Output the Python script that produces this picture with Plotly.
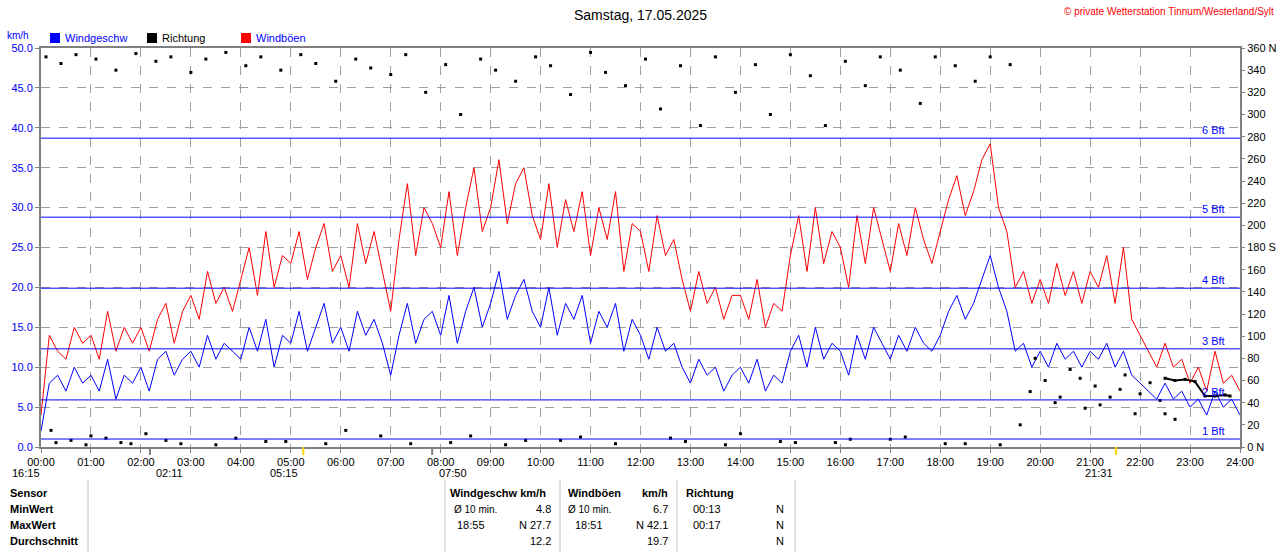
import plotly.graph_objects as go

speed = [2,8,9,7,10,8, 9,7,11,6,9,8, 10,7,11,12,9,11, 12,10,14,11,13,12,
         11,15,12,16,10,14, 13,17,12,15,18,13, 15,12,17,14,16,13, 9,14,18,13,16,17,
         14,19,13,17,20,15, 18,22,16,19,21,17, 15,20,14,18,16,19, 13,17,15,18,12,16,
         14,11,15,12,13,10, 8,11,9,10,7,9, 10,8,11,7,9,8, 12,14,10,15,11,13,
         12,9,14,11,15,13, 11,14,12,15,13,12, 14,17,19,16,18,21, 24,20,17,12,13,10,
         12,10,13,11,12,10, 12,11,13,10,12,9, 8,7,6,8,6,7, 5,6,4,7,5,6, 4]
gust = [4,14,12,11,15,13, 14,11,17,12,15,13, 15,12,16,18,13,17, 19,16,22,18,20,17,
        21,25,19,27,20,24, 23,27,21,25,28,22, 24,20,28,23,27,22, 17,26,33,24,30,28,
        25,32,24,30,35,27, 30,36,28,33,35,29, 26,33,25,31,27,32, 24,30,26,32,22,28,
        27,22,29,24,26,21, 17,22,18,20,16,19, 19,16,21,15,18,17, 24,29,22,30,23,27,
        25,20,29,23,30,26, 22,28,24,30,26,23, 27,31,34,29,32,36, 38,30,27,20,22,18,
        21,18,23,19,22,18, 22,20,24,18,25,16, 14,12,10,13,10,11, 8,10,7,12,8,9, 7]
times = [i / 6 for i in range(len(speed))]

dir_t = [0.1,0.4,0.7,1.1,1.5,1.9,2.3,2.6,3.0,3.3,3.7,4.1,4.4,4.8,5.2,5.5,5.9,6.3,6.6,7.0,
         7.3,7.7,8.1,8.4,8.8,9.1,9.5,9.9,10.2,10.6,11.0,11.3,11.7,12.1,12.4,12.8,13.2,13.5,13.9,14.3,
         14.6,15.0,15.4,15.7,16.1,16.5,16.8,17.2,17.6,17.9,18.3,18.7,19.0,19.4,
         0.3,0.9,1.3,1.8,2.5,3.5,4.5,5.7,6.8,8.2,9.3,10.4,11.5,12.6,13.7,14.8,15.9,17.0,18.1,19.2,
         0.2,0.6,1.0,1.6,2.1,2.8,3.9,4.9,6.1,7.4,8.6,9.7,10.8,12.9,14.0,15.1,16.2,17.3,18.5,19.6,
         19.8,20.1,20.3,20.6,20.9,21.1,21.4,21.7,21.9,22.2,22.4,22.7,19.9,20.4,20.8,21.2,21.6,22.0,22.5]
dir_v = [352,346,354,350,340,355,348,352,338,350,356,344,352,340,354,346,330,350,342,336,
         354,320,345,300,350,340,330,352,344,318,356,338,326,350,305,344,290,352,320,345,
         300,354,335,290,348,326,352,340,310,352,344,330,352,345,
         4,2,8,3,6,2,5,3,10,4,2,6,3,8,2,5,4,7,3,2,
         15,6,10,4,12,3,8,5,15,3,10,6,9,5,12,4,7,9,3,20,
         50,60,40,70,35,55,45,65,30,58,42,25,80,45,62,38,52,48,30]
line_t = [22.5,22.7,22.9,23.1,23.3,23.5,23.7,23.8]
line_v = [62,60,61,59,46,46,47,46]

yticks = [i * 5 for i in range(11)]
y2ticks = list(range(0, 361, 20))
y2text = ["0 N" if v == 0 else "180 S" if v == 180 else "360 N" if v == 360 else str(v) for v in y2ticks]
xticks = list(range(0, 25))
xtext = ["%02d:00" % h for h in xticks]
bft_v = [1.0, 5.9, 12.3, 19.9, 28.8, 38.7]
bft_lbl = ["1 Bft", "2 Bft", "3 Bft", "4 Bft", "5 Bft", "6 Bft"]

fig = go.Figure()
fig.add_trace(go.Scatter(x=times, y=gust, mode="lines", line=dict(color="#ff0000", width=1), showlegend=False))
fig.add_trace(go.Scatter(x=times, y=speed, mode="lines", line=dict(color="#0000ff", width=1), showlegend=False))
fig.add_trace(go.Scatter(x=dir_t, y=dir_v, mode="markers", marker=dict(color="black", size=3, symbol="square"),
                         yaxis="y2", showlegend=False))
fig.add_trace(go.Scatter(x=line_t, y=line_v, mode="lines+markers", line=dict(color="black", width=2),
                         marker=dict(size=3, color="black", symbol="square"), yaxis="y2", showlegend=False))

L, R, T, B = 41, 40, 48, 105
W, H = 1280, 552
pw, ph = W - L - R, H - T - B
def px(x): return (x - L) / pw
def py(y): return (H - B - y) / ph

shapes = []
for v in bft_v:
    shapes.append(dict(type="line", xref="paper", x0=0, x1=1, yref="y", y0=v, y1=v, line=dict(color="#0000ff", width=1)))
for xv in [88, 445, 560, 677, 795]:
    shapes.append(dict(type="line", xref="paper", yref="paper", x0=px(xv), x1=px(xv), y0=py(480), y1=py(552),
                       line=dict(color="#c0c0c0", width=1)))
for xv in [5.25, 21.52]:
    shapes.append(dict(type="line", xref="x", yref="paper", x0=xv, x1=xv, y0=0, y1=py(455), line=dict(color="#ffd700", width=2)))
for xv in [2.18, 7.83]:
    shapes.append(dict(type="line", xref="x", yref="paper", x0=xv, x1=xv, y0=0, y1=py(455), line=dict(color="#808080", width=2)))
for xv, c in [(50, "#0000ff"), (147, "black"), (241, "red")]:
    shapes.append(dict(type="rect", xref="paper", yref="paper", x0=px(xv), x1=px(xv + 10), y0=py(43), y1=py(33),
                       fillcolor=c, line=dict(width=0)))

ann = []
def t(x, y, s, anchor="left", color="black", size=11, bold=False):
    ann.append(dict(xref="paper", yref="paper", x=px(x), y=py(y), text=("<b>%s</b>" % s) if bold else s,
                    showarrow=False, xanchor=anchor, yanchor="middle", font=dict(color=color, size=size)))
t(640, 15, "Samstag, 17.05.2025", "center", size=14)
t(1276, 11, "© private Wetterstation Tinnum/Westerland/Sylt", "right", "red", 10)
t(5, 35, "km/h", color="#0000ff", size=10)
t(63, 38, "Windgeschw", size=11, color="#0000ff")
t(160, 38, "Richtung")
t(254, 38, "Windböen", color="#0000ff")
for v, s in zip(bft_v, bft_lbl):
    ann.append(dict(xref="paper", yref="y", x=px(1227), y=v, text=s, showarrow=False, xanchor="right",
                    yanchor="bottom", font=dict(color="#0000ff", size=11)))
t(10, 473, "16:15"); t(154, 473, "02:11"); t(268, 473, "05:15"); t(437, 473, "07:50"); t(1083, 473, "21:31")
r1, r2, r3, r4 = 493, 509, 525, 541
t(8, r1, "Sensor", bold=True); t(8, r2, "MinWert", bold=True); t(8, r3, "MaxWert", bold=True); t(8, r4, "Durchschnitt", bold=True)
t(448, r1, "Windgeschw km/h", bold=True); t(566, r1, "Windböen", bold=True); t(670, r1, "km/h", "right", bold=True); t(684, r1, "Richtung", bold=True)
t(452, r2, "Ø 10 min.", size=10); t(553, r2, "4.8", "right"); t(566, r2, "Ø 10 min.", size=10); t(670, r2, "6.7", "right")
t(691, r2, "00:13"); t(786, r2, "N", "right")
t(455, r3, "18:55"); t(553, r3, "N 27.7", "right"); t(573, r3, "18:51"); t(670, r3, "N 42.1", "right")
t(691, r3, "00:17"); t(786, r3, "N", "right")
t(553, r4, "12.2", "right"); t(670, r4, "19.7", "right"); t(786, r4, "N", "right")

fig.update_layout(
    width=W, height=H, margin=dict(l=L, r=R, t=T, b=B, autoexpand=False),
    paper_bgcolor="white", plot_bgcolor="white",
    font=dict(family="Liberation Sans, Arial", size=11, color="black"),
    shapes=shapes, annotations=ann,
    xaxis=dict(range=[0, 24], tickvals=xticks, ticktext=xtext, showgrid=True, gridcolor="#a0a0a0", griddash="dash",
               gridwidth=1, showline=True, linecolor="#808080", linewidth=2, mirror=True, ticks="outside",
               ticklen=4, tickcolor="#808080", zeroline=False, automargin=False),
    yaxis=dict(range=[0, 50], tickvals=yticks, tickformat=".1f", tickfont=dict(color="#0000ff"), showgrid=True,
               gridcolor="#a0a0a0", griddash="dash", showline=True, linecolor="#808080", linewidth=2, mirror=True,
               ticks="outside", ticklen=4, tickcolor="#808080", zeroline=False, automargin=False),
    yaxis2=dict(range=[0, 360], overlaying="y", side="right", tickvals=y2ticks, ticktext=y2text, showgrid=False,
                ticks="outside", ticklen=4, tickcolor="#808080", zeroline=False, automargin=False),
)
fig.write_html("out.html", config={"displayModeBar": False},
               post_script="document.body.style.margin='0';document.body.style.overflow='hidden';")
